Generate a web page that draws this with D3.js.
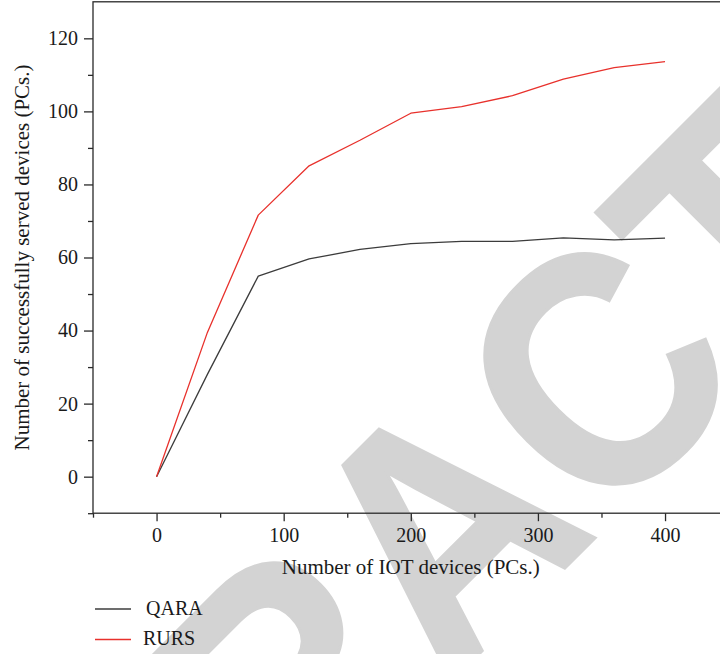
<!DOCTYPE html>
<html><head><meta charset="utf-8">
<script src="https://cdn.jsdelivr.net/npm/d3@7"></script>
<style>body{margin:0;background:#fff}svg{display:block}</style>
</head><body>
<svg id="c" width="720" height="654"></svg>
<script>
// ---- data ----
const xValues = [0, 40, 80, 120, 160, 200, 240, 280, 320, 360, 400];
const qaraValues = [0, 28.0, 54.9, 59.6, 62.2, 63.8, 64.4, 64.4, 65.4, 64.8, 65.3];
const rursValues = [0, 39.5, 71.6, 85.1, 92.1, 99.5, 101.3, 104.3, 108.8, 112.0, 113.6];
const seriesNames = ["QARA", "RURS"];
const xTickValues = [0, 100, 200, 300, 400];
const xMinorTicks = [-50, 50, 150, 250, 350];
const yTickValues = [0, 20, 40, 60, 80, 100, 120];
const yMinorTicks = [-10, 10, 30, 50, 70, 90, 110];
const xTitle = "Number of IOT devices (PCs.)";
const yTitle = "Number of successfully served devices (PCs.)";
const watermark = "RETRACTED";

// ---- layout ----
const svg = d3.select("#c");
const pLeft = 93, pRight = 728.6, pTop = 1.8, pBottom = 513.2;
const x = d3.scaleLinear().domain([-50, 450]).range([pLeft, pRight]);
const y = d3.scaleLinear().domain([-10, 130]).range([pBottom, pTop]);
const axisColor = "#2a2a2a";
const serif = "'Liberation Serif','Times New Roman',serif";
const seriesColors = ["#3c3c3c", "#e8312c"];

// watermark (beneath everything)
svg.append("text")
  .attr("transform", "translate(523.5,609.5) rotate(-45) scale(0.907,1)")
  .attr("text-anchor", "middle")
  .attr("font-family", "'Liberation Sans',Arial,sans-serif")
  .attr("font-weight", "bold")
  .attr("font-size", 334)
  .attr("fill", "#d3d3d3")
  .attr("stroke", "#d3d3d3")
  .attr("stroke-width", 3)
  .attr("stroke-linejoin", "miter")
  .text(watermark);

// frame
svg.append("rect")
  .attr("x", pLeft).attr("y", pTop)
  .attr("width", pRight - pLeft).attr("height", pBottom - pTop)
  .attr("fill", "none").attr("stroke", axisColor).attr("stroke-width", 1.3);

function styleAxis(g) {
  g.select(".domain").remove();
  g.selectAll("line").attr("stroke", axisColor).attr("stroke-width", 1.3);
  g.selectAll("text").attr("font-family", serif).attr("font-size", 20).attr("fill", "#1a1a1a");
}

// x axis
svg.append("g").attr("transform", `translate(0,${pBottom})`)
  .call(d3.axisBottom(x).tickValues(xTickValues).tickSize(8).tickPadding(7).tickFormat(d3.format("d")))
  .call(styleAxis);
svg.append("g").attr("transform", `translate(0,${pBottom})`)
  .call(d3.axisBottom(x).tickValues(xMinorTicks).tickSize(4.5).tickFormat(""))
  .call(styleAxis);

// y axis
svg.append("g").attr("transform", `translate(${pLeft},0)`)
  .call(d3.axisLeft(y).tickValues(yTickValues).tickSize(9).tickPadding(6).tickFormat(d3.format("d")))
  .call(styleAxis);
svg.append("g").attr("transform", `translate(${pLeft},0)`)
  .call(d3.axisLeft(y).tickValues(yMinorTicks).tickSize(5).tickFormat(""))
  .call(styleAxis);

// titles
svg.append("text")
  .attr("x", (pLeft + pRight) / 2).attr("y", 574)
  .attr("text-anchor", "middle")
  .attr("font-family", serif).attr("font-size", 21).attr("fill", "#1a1a1a")
  .text(xTitle);
svg.append("text")
  .attr("transform", `translate(29,${(pTop + pBottom) / 2}) rotate(-90)`)
  .attr("text-anchor", "middle")
  .attr("font-family", serif).attr("font-size", 21).attr("fill", "#1a1a1a")
  .text(yTitle);

// lines
const lineGen = d3.line().x((d, i) => x(xValues[i])).y(d => y(d));
const series = [
  {name: seriesNames[0], values: qaraValues, color: seriesColors[0]},
  {name: seriesNames[1], values: rursValues, color: seriesColors[1]}
];
svg.selectAll("path.series").data(series).join("path")
  .attr("class", "series")
  .attr("d", d => lineGen(d.values))
  .attr("fill", "none")
  .style("stroke", d => d.color)
  .attr("stroke-width", 1.3)
  .attr("stroke-linejoin", "round");

// legend
const legendY = [609, 639.5];
series.forEach((s, i) => {
  svg.append("path")
    .attr("d", `M95,${legendY[i]}H131`)
    .attr("fill", "none")
    .style("stroke", s.color)
    .attr("stroke-width", 1.3);
  svg.append("text")
    .attr("x", i === 0 ? 146 : 143)
    .attr("y", legendY[i] + 5.5)
    .attr("font-family", serif).attr("font-size", 20).attr("fill", "#1a1a1a")
    .text(s.name);
});
</script>
</body></html>
